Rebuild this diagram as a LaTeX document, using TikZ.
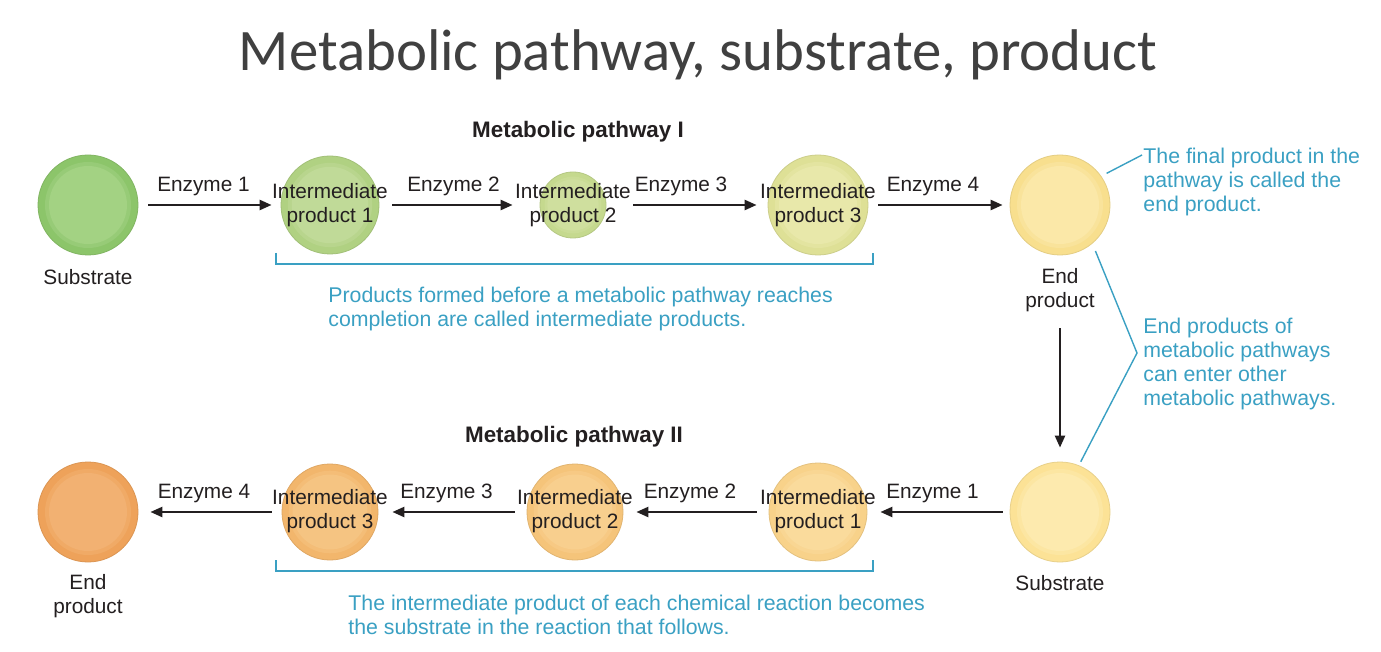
\documentclass[tikz,border=0pt]{standalone}
\usepackage{fontspec}
\setmainfont{Liberation Sans}
\newfontfamily\titlefont{Carlito}
\usetikzlibrary{arrows.meta}
\definecolor{txt}{HTML}{231F20}
\definecolor{cyanA}{HTML}{3AA0C3}
\definecolor{ttl}{HTML}{404040}
% ball colours: rim / inner
\definecolor{gA}{HTML}{8CC56A}\definecolor{gAi}{HTML}{A3D283}
\definecolor{gB}{HTML}{B0D182}\definecolor{gBi}{HTML}{C0DA98}
\definecolor{gC}{HTML}{C5D98E}\definecolor{gCi}{HTML}{CFDF9E}
\definecolor{gD}{HTML}{DEE096}\definecolor{gDi}{HTML}{E8E8AA}
\definecolor{yE}{HTML}{F8DF8E}\definecolor{yEi}{HTML}{FBE8A8}
\definecolor{oA}{HTML}{FCE296}\definecolor{oAi}{HTML}{FDEAAE}
\definecolor{oB}{HTML}{F8D28A}\definecolor{oBi}{HTML}{FADB9C}
\definecolor{oC}{HTML}{F5C47A}\definecolor{oCi}{HTML}{F8CF8E}
\definecolor{oD}{HTML}{F2B66C}\definecolor{oDi}{HTML}{F5C482}
\definecolor{oE}{HTML}{EEA25A}\definecolor{oEi}{HTML}{F2B172}
\begin{document}
\begin{tikzpicture}[x=0.5pt,y=-0.5pt,
  ball/.style n args={3}{circle, inner sep=0pt, minimum size={#1*0.5pt}, fill=#2,
    draw=#2!92!black, line width=0.4pt,
    path picture={
      \fill[#3!50!#2] (path picture bounding box.center) circle[radius={0.215*#1pt}];
      \fill[#3] (path picture bounding box.center) circle[radius={0.195*#1pt}];}},
  lbl/.style={font=\fontsize{10.4}{12}\selectfont, text=txt, align=center, inner sep=0pt},
  head/.style={font=\fontsize{11.2}{13}\selectfont\bfseries, text=txt, inner sep=0pt},
  note/.style={font=\fontsize{10.65}{12}\selectfont, text=cyanA, align=left, inner sep=0pt, anchor=west},
  arr/.style={-{Triangle[length=6pt,width=5pt]}, line width=1.2pt, draw=txt},
  lead/.style={draw=cyanA, line width=0.7pt},
  enz/.style={lbl, midway, above=4pt, xshift=-3pt}]
\useasboundingbox (0,0) rectangle (1381,652);
\fill[white] (0,0) rectangle (1381,652);

\node[font=\titlefont\fontsize{29.4}{34}\selectfont, text=ttl, inner sep=0pt] (title) at (698,55) {Metabolic pathway, substrate, product};

% ---- pathway I ----
\node[head] (h1) at (578,132) {Metabolic pathway I};
\node[ball={100}{gA}{gAi}] (s1) at (88,205) {};
\node[ball={98}{gB}{gBi}] (i1) at (330,205) {};
\node[ball={66}{gC}{gCi}] (i2) at (573,205) {};
\node[ball={100}{gD}{gDi}] (i3) at (818,205) {};
\node[ball={100}{yE}{yEi}] (ep) at (1060,205) {};

\node[lbl] (s1l) at (88,277) {Substrate};
\node[lbl] (i1l) at (330,205) {Intermediate\\product 1};
\node[lbl] (i2l) at (573,205) {Intermediate\\product 2};
\node[lbl] (i3l) at (818,205) {Intermediate\\product 3};
\node[lbl] (epl) at (1060,290) {End\\product};

\draw[arr, shorten <=5pt, shorten >=4.5pt] (s1.east) -- (i1.west) node[enz] {Enzyme 1};
\draw[arr, shorten <=6.5pt, shorten >=13.5pt] (i1.east) -- (i2.west) node[enz] {Enzyme 2};
\draw[arr, shorten <=13.5pt, shorten >=5.5pt] (i2.east) -- (i3.west) node[enz] {Enzyme 3};
\draw[arr, shorten <=5pt, shorten >=3.5pt] (i3.east) -- (ep.west) node[enz] {Enzyme 4};

\draw[lead] (276,253) -- (276,264) -- (873,264) -- (873,253);
\node[note] (n1) at (328,309) {Products formed before a metabolic pathway reaches\\completion are called intermediate products.};

% ---- right callouts ----
\node[note] (n2) at (1143,182) {The final product in the\\pathway is called the\\end product.};
\node[note] (n3) at (1143,364) {End products of\\metabolic pathways\\can enter other\\metabolic pathways.};

% ---- pathway II ----
\node[head] (h2) at (574,437) {Metabolic pathway II};
\node[ball={100}{oA}{oAi}] (bs) at (1060,512) {};
\node[ball={98}{oB}{oBi}] (b1) at (818,512) {};
\node[ball={96}{oC}{oCi}] (b2) at (575,512) {};
\node[ball={96}{oD}{oDi}] (b3) at (330,512) {};
\node[ball={100}{oE}{oEi}] (be) at (88,512) {};

\node[lbl] (bsl) at (1060,583) {Substrate};
\node[lbl] (b1l) at (818,511) {Intermediate\\product 1};
\node[lbl] (b2l) at (575,511) {Intermediate\\product 2};
\node[lbl] (b3l) at (330,511) {Intermediate\\product 3};
\node[lbl] (bel) at (88,596) {End\\product};

\coordinate (c1) at (1142,155);
\coordinate (c2) at (1137,353);
\draw[lead, shorten <=3pt] (ep.35) -- (c1);
\draw[lead, shorten <=4pt, shorten >=2pt] (ep.-50) -- (c2) -- (bs.68);

\draw[arr, shorten <=8pt, shorten >=7pt] (epl.south) -- (bs.north);

\draw[arr, shorten <=3.5pt, shorten >=6.5pt] (bs.west) -- (b1.east) node[enz] {Enzyme 1};
\draw[arr, shorten <=6pt, shorten >=6.5pt] (b1.west) -- (b2.east) node[enz] {Enzyme 2};
\draw[arr, shorten <=6pt, shorten >=7pt] (b2.west) -- (b3.east) node[enz] {Enzyme 3};
\draw[arr, shorten <=5pt, shorten >=6pt] (b3.west) -- (be.east) node[enz] {Enzyme 4};

\draw[lead] (276,560) -- (276,571) -- (873,571) -- (873,560);
\node[note] (n4) at (348,615) {The intermediate product of each chemical reaction becomes\\the substrate in the reaction that follows.};
\end{tikzpicture}
\end{document}
